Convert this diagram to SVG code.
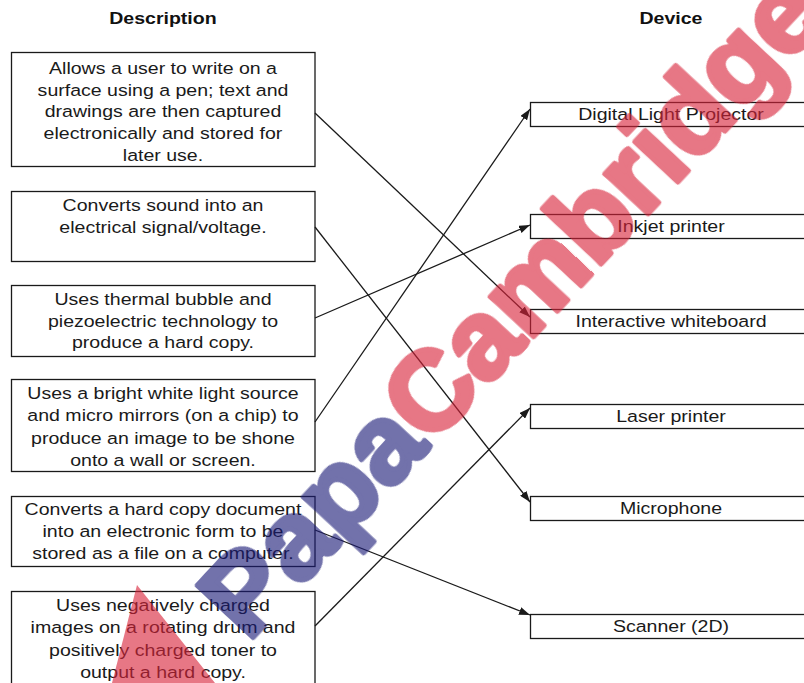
<svg xmlns="http://www.w3.org/2000/svg" width="804" height="683" viewBox="0 0 804 683">
<style>
.box{fill:#fff;stroke:#1a1a1a;stroke-width:1.3}
.t{font-family:"Liberation Sans",Arial,sans-serif;font-size:17px;fill:#1a1a1a;text-anchor:middle}
.h{font-family:"Liberation Sans",Arial,sans-serif;font-size:17px;font-weight:bold;fill:#111;text-anchor:middle}
.c{stroke:#1a1a1a;stroke-width:1.3;fill:none;marker-end:url(#ah)}
.wm{font-family:"Liberation Sans",Arial,sans-serif;font-weight:bold;font-size:112px;stroke-width:5;stroke-linejoin:round}
</style>
<defs>
<marker id="ah" markerUnits="userSpaceOnUse" markerWidth="11" markerHeight="8" refX="11" refY="4" orient="auto">
<path d="M0,0 L11,4 L0,8 z" fill="#1a1a1a"/>
</marker>
</defs>
<rect width="804" height="683" fill="#fff"/>
<g id="headers" transform="matrix(1.15 0 0 1 0 0)">
<text class="h" x="141.7" y="24">Description</text>
<text class="h" x="583.5" y="24">Device</text>
</g>
<g id="desc1">
<rect class="box" x="11.5" y="52.5" width="303.5" height="114"/>
<g transform="matrix(1.15 0 0 1 -24.45 0)">
<text class="t" x="163" y="74">Allows a user to write on a</text>
<text class="t" x="163" y="96">surface using a pen; text and</text>
<text class="t" x="163" y="117.5">drawings are then captured</text>
<text class="t" x="163" y="139">electronically and stored for</text>
<text class="t" x="163" y="161">later use.</text>
</g>
</g>
<g id="desc2">
<rect class="box" x="11.5" y="191.5" width="303.5" height="70"/>
<g transform="matrix(1.15 0 0 1 -24.45 0)">
<text class="t" x="163" y="211">Converts sound into an</text>
<text class="t" x="163" y="233">electrical signal/voltage.</text>
</g>
</g>
<g id="desc3">
<rect class="box" x="11.5" y="285.5" width="303.5" height="71"/>
<g transform="matrix(1.15 0 0 1 -24.45 0)">
<text class="t" x="163" y="305">Uses thermal bubble and</text>
<text class="t" x="163" y="327">piezoelectric technology to</text>
<text class="t" x="163" y="348.5">produce a hard copy.</text>
</g>
</g>
<g id="desc4">
<rect class="box" x="11.5" y="379.5" width="303.5" height="92"/>
<g transform="matrix(1.15 0 0 1 -24.45 0)">
<text class="t" x="163" y="399">Uses a bright white light source</text>
<text class="t" x="163" y="421.5">and micro mirrors (on a chip) to</text>
<text class="t" x="163" y="444">produce an image to be shone</text>
<text class="t" x="163" y="466.5">onto a wall or screen.</text>
</g>
</g>
<g id="desc5">
<rect class="box" x="11.5" y="496.5" width="303.5" height="70"/>
<g transform="matrix(1.15 0 0 1 -24.45 0)">
<text class="t" x="163" y="515">Converts a hard copy document</text>
<text class="t" x="163" y="537">into an electronic form to be</text>
<text class="t" x="163" y="559">stored as a file on a computer.</text>
</g>
</g>
<g id="desc6">
<rect class="box" x="11.5" y="591.5" width="303.5" height="100"/>
<g transform="matrix(1.15 0 0 1 -24.45 0)">
<text class="t" x="163" y="611.5">Uses negatively charged</text>
<text class="t" x="163" y="633.5">images on a rotating drum and</text>
<text class="t" x="163" y="656">positively charged toner to</text>
<text class="t" x="163" y="678">output a hard copy.</text>
</g>
</g>
<g id="dev1">
<rect class="box" x="530.5" y="102.5" width="290" height="24"/>
<text class="t" x="583.5" y="120.5" transform="matrix(1.15 0 0 1 0 0)">Digital Light Projector</text>
</g>
<g id="dev2">
<rect class="box" x="530.5" y="214.5" width="290" height="24"/>
<text class="t" x="583.5" y="232.5" transform="matrix(1.15 0 0 1 0 0)">Inkjet printer</text>
</g>
<g id="dev3">
<rect class="box" x="530.5" y="309.5" width="290" height="24"/>
<text class="t" x="583.5" y="327.5" transform="matrix(1.15 0 0 1 0 0)">Interactive whiteboard</text>
</g>
<g id="dev4">
<rect class="box" x="530.5" y="404.5" width="290" height="24"/>
<text class="t" x="583.5" y="422.5" transform="matrix(1.15 0 0 1 0 0)">Laser printer</text>
</g>
<g id="dev5">
<rect class="box" x="530.5" y="496.5" width="290" height="24"/>
<text class="t" x="583.5" y="514.5" transform="matrix(1.15 0 0 1 0 0)">Microphone</text>
</g>
<g id="dev6">
<rect class="box" x="530.5" y="614.5" width="290" height="24"/>
<text class="t" x="583.5" y="632.5" transform="matrix(1.15 0 0 1 0 0)">Scanner (2D)</text>
</g>
<g id="connectors">
<line class="c" x1="315" y1="113" x2="530" y2="317"/>
<line class="c" x1="315" y1="227" x2="530" y2="502"/>
<line class="c" x1="315" y1="318" x2="530" y2="225"/>
<line class="c" x1="315" y1="422" x2="530" y2="109"/>
<line class="c" x1="315" y1="530" x2="530" y2="615"/>
<line class="c" x1="315" y1="626" x2="530" y2="408"/>
</g>
<g id="watermark" opacity="0.62">
<polygon points="137,585 112,683 215,683" fill="#d8243a"/>
<text class="wm" transform="translate(248,643) rotate(-47)"><tspan fill="#1c1c78" stroke="#1c1c78">Papa</tspan><tspan fill="#d8243a" stroke="#d8243a">Cambridge</tspan></text>
</g>
</svg>
